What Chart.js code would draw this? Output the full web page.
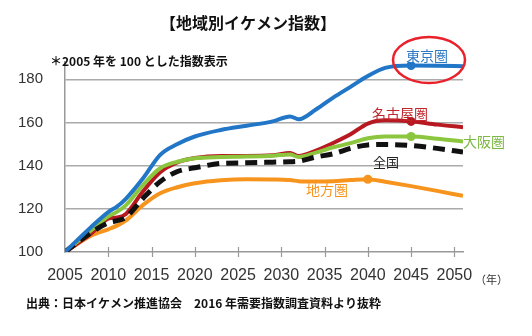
<!DOCTYPE html>
<html>
<head>
<meta charset="utf-8">
<script src="https://cdn.jsdelivr.net/npm/chart.js@4/dist/chart.umd.min.js"></script>
<style>
  body { margin: 0; background: #fff; }
  canvas { display: block; }
</style>
</head>
<body>
<canvas id="ikemen" width="532" height="336"></canvas>
<script>
// years sampled along the curves (last point is where the lines stop, just past 2050)
const years = [2005, 2008, 2010, 2011, 2012, 2014, 2016, 2018, 2020, 2023, 2026, 2029, 2031, 2032, 2034, 2036, 2038, 2040, 2042, 2045, 2048, 2051];
const tickYears = [2005, 2010, 2015, 2020, 2025, 2030, 2035, 2040, 2045, 2050];
const yTicks = [100, 120, 140, 160, 180];

const tokyo   = [100, 111.5, 118.5, 121, 124.5, 134, 145, 150, 153.5, 156.5, 158.5, 160.5, 162.8, 161.5, 166, 171.5, 176.5, 181.5, 185.3, 186.4, 186.3, 186];
const nagoya  = [100, 108.5, 115.5, 116, 117.5, 128, 137, 141.5, 143.5, 144.5, 144.5, 144.8, 145.8, 144.5, 147, 150.5, 154.5, 159.5, 161, 160.5, 159, 157.8];
const osaka   = [100, 110, 116.5, 118.6, 121.5, 131, 138.8, 141.8, 143.4, 144, 144.2, 144.6, 145.2, 144, 146, 148.5, 150.4, 152.7, 153.5, 153.5, 152.5, 151.2];
const zenkoku = [100, 109, 113.5, 114.5, 116, 124.8, 132.6, 137.3, 139, 141, 141.3, 141.6, 141.8, 142, 144, 145.5, 148, 149.6, 149.8, 149.3, 148, 146.3];
const chiho   = [100, 107.5, 110.5, 112.2, 114.5, 121.7, 127.2, 130, 131.8, 133.2, 133.7, 133.6, 133.3, 132.8, 132.6, 132.8, 133.3, 133.7, 132.5, 130.5, 128.3, 126];

const markerYear = { tokyo: 2045, nagoya: 2045, osaka: 2045, zenkoku: null, chiho: 2040 };

function pts(vals) {
    return years.map((y, i) => ({x: y, y: vals[i]}));
}
function radii(year) {
    return years.map(y => (y === year ? 4.5 : 0));
}

function makeSet(label, vals, color, key, dash) {
    return {
        label: label,
        data: pts(vals),
        borderColor: color,
        backgroundColor: color,
        borderWidth: dash ? 5 : 4,
        borderDash: dash || [],
        pointRadius: radii(markerYear[key]),
        pointBorderWidth: 0,
        cubicInterpolationMode: 'monotone',
        fill: false
    };
}

// text labels, title and footer
const textPlugin = {
    id: 'texts',
    afterDraw(chart) {
        const c = chart.ctx;
        const xs = chart.scales.x;
        const ys = chart.scales.y;
        c.save();
        // tick marks crossing the x axis
        c.strokeStyle = '#999';
        c.lineWidth = 1.2;
        tickYears.forEach(t => {
            if (t === 2005) return;
            const px = Math.round(xs.getPixelForValue(t)) + 0.5;
            c.beginPath();
            c.moveTo(px, ys.bottom - 5);
            c.lineTo(px, ys.bottom + 5);
            c.stroke();
        });

        const jp = '"Noto Sans CJK JP", sans-serif';
        c.textBaseline = 'middle';
        c.textAlign = 'center';
        c.fillStyle = '#111';
        c.font = 'bold 16px ' + jp;
        c.fillText('【地域別イケメン指数】', 248, 23);

        c.textAlign = 'left';
        c.font = 'bold 12px ' + jp;
        c.fillText('＊2005 年を 100 とした指数表示', 50, 61);
        c.fillText('出典：日本イケメン推進協会　2016 年需要指数調査資料より抜粋', 26, 303);

        c.font = '11px ' + jp;
        c.fillStyle = '#333';
        c.fillText('（年）', 475, 280);

        c.textAlign = 'center';
        c.font = '14px ' + jp;
        c.fillStyle = '#2f78c4';
        c.fillText('東京圏', 427, 56);
        c.fillStyle = '#c0282d';
        c.fillText('名古屋圏', 400, 114);
        c.fillStyle = '#7cb843';
        c.fillText('大阪圏', 484, 142);
        c.fillStyle = '#f7941d';
        c.fillText('地方圏', 327, 190);
        c.font = '13px ' + jp;
        c.fillStyle = '#222';
        c.fillText('全国', 386, 162);

        // red circle round the Tokyo label
        c.strokeStyle = '#e8212b';
        c.lineWidth = 2.5;
        c.beginPath();
        c.ellipse(429, 60, 36, 23, 0, 0, Math.PI * 2);
        c.stroke();
        c.restore();
    }
};

new Chart(document.getElementById('ikemen'), {
    type: 'line',
    data: {
        datasets: [
            makeSet('東京圏', tokyo, '#2176c7', 'tokyo'),
            makeSet('全国', zenkoku, '#111111', 'zenkoku', [12, 7]),
            makeSet('大阪圏', osaka, '#8cc63f', 'osaka'),
            makeSet('名古屋圏', nagoya, '#b81820', 'nagoya'),
            makeSet('地方圏', chiho, '#f7941d', 'chiho')
        ]
    },
    options: {
        responsive: false,
        animation: false,
        events: [],
        layout: { padding: { top: 62, left: 0, right: 69, bottom: 0 } },
        plugins: { legend: { display: false }, tooltip: { enabled: false } },
        scales: {
            x: {
                type: 'linear',
                min: 2005,
                max: 2051,
                afterBuildTicks: s => { s.ticks = tickYears.map(v => ({value: v})); },
                afterFit: s => { s.height = 84; },
                grid: { drawOnChartArea: false, drawTicks: false },
                border: { display: true, color: '#999', width: 1.5 },
                ticks: {
                    padding: 14,
                    color: '#333',
                    font: { family: '"Liberation Sans", Arial, sans-serif', size: 16 },
                    maxRotation: 0,
                    autoSkip: false,
                    callback: v => String(v)
                }
            },
            y: {
                min: 100,
                max: 188,
                afterBuildTicks: s => { s.ticks = yTicks.map(v => ({value: v})); },
                afterFit: s => { s.width = 65; },
                grid: {
                    drawTicks: false,
                    color: ctx => (ctx.tick && ctx.tick.value === 100 ? 'rgba(0,0,0,0)' : '#aaaaaa'),
                    lineWidth: 1.5
                },
                border: { display: true, color: '#999', width: 1.5 },
                ticks: {
                    padding: 22,
                    color: '#333',
                    font: { family: '"Liberation Sans", Arial, sans-serif', size: 15 },
                    callback: v => String(v)
                }
            }
        }
    },
    plugins: [textPlugin]
});
</script>
</body>
</html>
